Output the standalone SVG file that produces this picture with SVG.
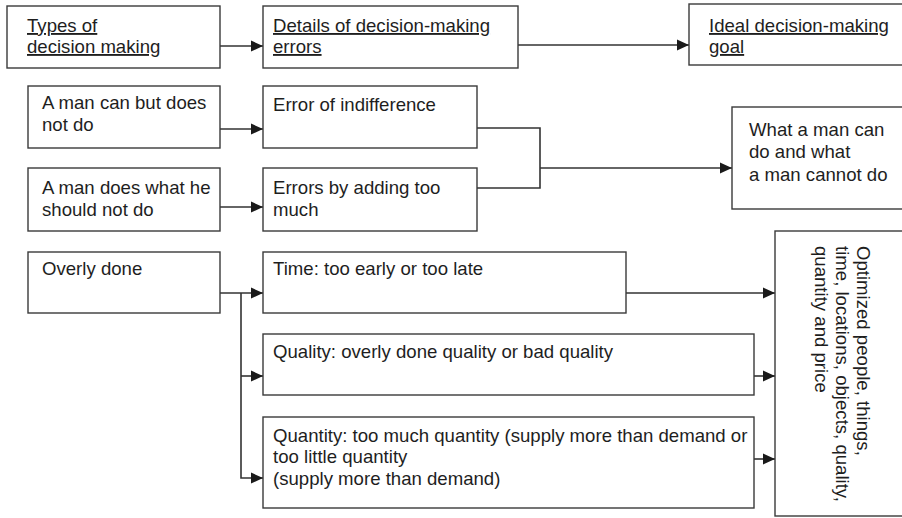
<svg xmlns="http://www.w3.org/2000/svg" width="902" height="518" viewBox="0 0 902 518">
<defs>
<style>
.box{fill:#fff;stroke:#3a3a3a;stroke-width:1.4}
.t{font-family:"Liberation Sans",Arial,sans-serif;font-size:18.6px;fill:#1e1e1e}
.u{text-decoration:underline}
.c{fill:none;stroke:#333;stroke-width:1.6}
</style>
<marker id="ah" viewBox="0 0 12 12" refX="12" refY="6" markerWidth="12" markerHeight="12" markerUnits="userSpaceOnUse" orient="auto">
<path d="M0,0.5 L12,6 L0,11.5 Z" fill="#1a1a1a"/>
</marker>
</defs>
<rect width="902" height="518" fill="#fff"/>
<g id="connectors">
<path class="c" d="M220,46 H263" marker-end="url(#ah)"/>
<path class="c" d="M518,45 H689" marker-end="url(#ah)"/>
<path class="c" d="M220,129 H263" marker-end="url(#ah)"/>
<path class="c" d="M220,207 H263" marker-end="url(#ah)"/>
<path class="c" d="M477,128 H540 V188 H477"/>
<path class="c" d="M540,168 H732" marker-end="url(#ah)"/>
<path class="c" d="M220,293 H263" marker-end="url(#ah)"/>
<path class="c" d="M241,293 V478 H263" marker-end="url(#ah)"/>
<path class="c" d="M241,376 H263" marker-end="url(#ah)"/>
<path class="c" d="M626,293 H775" marker-end="url(#ah)"/>
<path class="c" d="M754,376 H775" marker-end="url(#ah)"/>
<path class="c" d="M754,459 H775" marker-end="url(#ah)"/>
</g>
<g id="types">
<rect class="box" x="7" y="6" width="213" height="62"/>
<text class="t u" x="27" y="32">Types of</text>
<text class="t u" x="27" y="53">decision making</text>
</g>
<g id="details">
<rect class="box" x="263" y="6" width="255" height="62"/>
<text class="t u" x="273" y="32">Details of decision-making</text>
<text class="t u" x="273" y="53">errors</text>
</g>
<g id="ideal">
<rect class="box" x="689" y="4" width="214" height="61"/>
<text class="t u" x="709" y="32">Ideal decision-making</text>
<text class="t u" x="709" y="53">goal</text>
</g>
<g id="can-not-do">
<rect class="box" x="28" y="86" width="192" height="62"/>
<text class="t" x="42" y="109">A man can but does</text>
<text class="t" x="42" y="131">not do</text>
</g>
<g id="indifference">
<rect class="box" x="263" y="86" width="214" height="62"/>
<text class="t" x="273" y="111">Error of indifference</text>
</g>
<g id="should-not">
<rect class="box" x="28" y="168" width="192" height="63"/>
<text class="t" x="42" y="194">A man does what he</text>
<text class="t" x="42" y="216">should not do</text>
</g>
<g id="adding">
<rect class="box" x="263" y="168" width="214" height="63"/>
<text class="t" x="273" y="194">Errors by adding too</text>
<text class="t" x="273" y="216">much</text>
</g>
<g id="can-cannot">
<rect class="box" x="732" y="107" width="171" height="102"/>
<text class="t" x="749" y="136">What a man can</text>
<text class="t" x="749" y="158">do and what</text>
<text class="t" x="749" y="181">a man cannot do</text>
</g>
<g id="overly">
<rect class="box" x="28" y="252" width="192" height="61"/>
<text class="t" x="42" y="275">Overly done</text>
</g>
<g id="time">
<rect class="box" x="263" y="252" width="363" height="61"/>
<text class="t" x="273" y="275">Time: too early or too late</text>
</g>
<g id="quality">
<rect class="box" x="263" y="334" width="491" height="61"/>
<text class="t" x="273" y="358">Quality: overly done quality or bad quality</text>
</g>
<g id="quantity">
<rect class="box" x="263" y="417" width="491" height="91"/>
<text class="t" x="273" y="442">Quantity: too much quantity (supply more than demand or</text>
<text class="t" x="273" y="463">too little quantity</text>
<text class="t" x="273" y="485">(supply more than demand)</text>
</g>
<g id="optimized">
<rect class="box" x="775" y="231" width="128" height="285"/>
<g transform="translate(857,246) rotate(90)">
<text class="t" x="0" y="0">Optimized people, things,</text>
<text class="t" x="0" y="21">time, locations, objects, quality,</text>
<text class="t" x="0" y="42">quantity and price</text>
</g>
</g>
</svg>
